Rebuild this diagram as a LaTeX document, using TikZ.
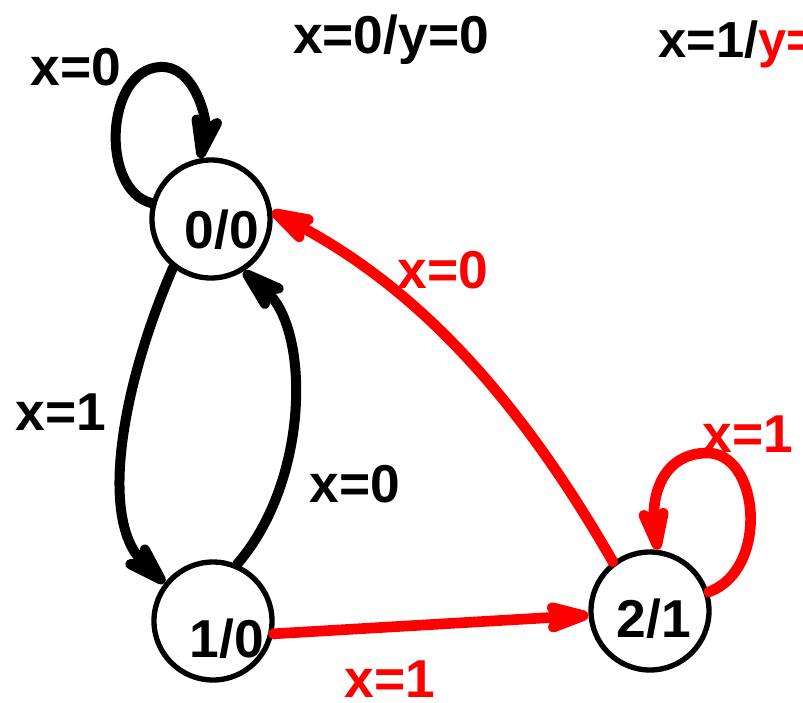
\documentclass[tikz,border=0pt]{standalone}
\usepackage{fontspec}
\setmainfont{Liberation Sans}
\usetikzlibrary{arrows.meta}
\definecolor{myred}{RGB}{255,0,0}
\tikzset{
  state/.style={circle,draw=black,line width=4pt,minimum size=88.5pt,inner sep=0pt},
  lbl/.style={inner sep=0pt,anchor=base,font=\fontsize{40}{40}\selectfont\bfseries},
  smalllbl/.style={inner sep=0pt,anchor=base west,font=\fontsize{38}{38}\selectfont\bfseries},
  tipk/.tip={Stealth[length=48pt,width=30pt,inset=13pt,round]},
  blackedge/.style={draw=black,line width=7.5pt,line cap=round,-tipk},
  rededge/.style={draw=myred,line width=8pt,line cap=round,-tipk},
}
\begin{document}
\begin{tikzpicture}[x=0.75pt,y=-0.75pt]
\useasboundingbox (0,0) rectangle (803,703);
\clip (0,0) rectangle (803,703);
% states
\node[state] (s00) at (211,219) {};
\node[state] (s10) at (213,621) {};
\node[state] (s21) at (650,611) {};
\node[lbl] (t00) at (222,248) {0/0};
\node[lbl] (t10) at (227,657) {1/0};
\node[lbl] (t21) at (654,637) {2/1};
% edges
\draw[blackedge] (s00.165) .. controls (100,190) and (105,70) .. (160,67)
  .. controls (195,65) and (207,120) .. (s00.100);
\draw[blackedge] (s00.232) .. controls (120,390) and (100,520) .. (s10.142);
\draw[blackedge] (s10.67) .. controls (310,480) and (310,330) .. (s00.302);
\draw[rededge] (s10.348) -- (s21.184);
\draw[rededge] (s21.127) .. controls (520,400) and (420,290) .. (s00.7);
\draw[rededge] (s21.18) .. controls (770,570) and (760,450) .. (705,453)
  .. controls (660,455) and (652,500) .. (s21.83);
% labels
\node[lbl] (a) at (391,53) {x=0/y=0};
\node[smalllbl] (b) at (658,57) {x=1/\textcolor{myred}{y=1}};
\node[lbl] (c) at (76,85) {x=0};
\node[lbl] (d) at (61,430) {x=1};
\node[lbl] (e) at (355,502) {x=0};
\node[lbl,text=myred] (f) at (443,288) {x=0};
\node[lbl,text=myred] (g) at (748,452) {x=1};
\node[lbl,text=myred] (h) at (390,697) {x=1};
\end{tikzpicture}
\end{document}
